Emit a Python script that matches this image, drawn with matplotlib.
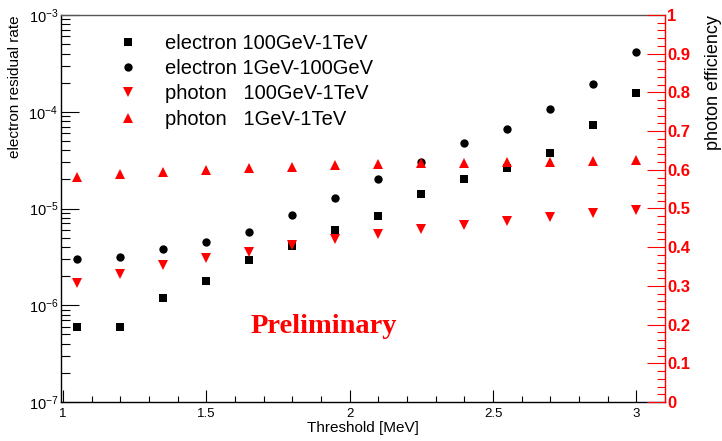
import numpy as np
import matplotlib
matplotlib.use("Agg")
import matplotlib.pyplot as plt
from matplotlib.ticker import (LogLocator, NullFormatter, MultipleLocator,
                               FormatStrFormatter)

plt.rcParams["font.family"] = ["Liberation Sans", "DejaVu Sans"]

# thresholds [MeV]
threshold = [1.05, 1.2, 1.35, 1.5, 1.65, 1.8, 1.95, 2.1, 2.25, 2.4, 2.55, 2.7, 2.85, 3.0]

# electron residual rate (left, log axis)
e_high = [6.0e-7, 6.0e-7, 1.19e-6, 1.78e-6, 2.96e-6, 4.13e-6, 5.96e-6, 8.3e-6,
          1.42e-5, 2.02e-5, 2.64e-5, 3.72e-5, 7.24e-5, 1.55e-4]
e_low = [2.98e-6, 3.18e-6, 3.81e-6, 4.48e-6, 5.68e-6, 8.63e-6, 1.29e-5, 2.03e-5,
         3.03e-5, 4.75e-5, 6.64e-5, 1.06e-4, 1.92e-4, 4.11e-4]

# photon efficiency (right, linear axis)
p_high = [0.307, 0.331, 0.353, 0.371, 0.388, 0.406, 0.421, 0.434,
          0.446, 0.457, 0.468, 0.479, 0.488, 0.496]
p_all = [0.582, 0.589, 0.595, 0.599, 0.604, 0.608, 0.612, 0.614,
         0.617, 0.618, 0.620, 0.621, 0.624, 0.625]

labels = ["electron 100GeV-1TeV", "electron 1GeV-100GeV",
          "photon   100GeV-1TeV", "photon   1GeV-1TeV"]

W, H = 722, 441
fig = plt.figure(figsize=(W/100, H/100), dpi=100)
ax = fig.add_axes([61/W, 39/H, 604/W, 387/H])
ax2 = ax.twinx()

h1, = ax.plot(threshold, e_high, "s", color="black", ms=5.8, mew=0, label=labels[0])
h2, = ax.plot(threshold, e_low, "o", color="black", ms=6.0, mew=0, label=labels[1])
h3, = ax2.plot(threshold, p_high, "v", color="red", ms=6.5, mew=0, label=labels[2])
h4, = ax2.plot(threshold, p_all, "^", color="red", ms=6.5, mew=0, label=labels[3])

ax.set_xlim(0.993, 3.1)
ax.set_yscale("log")
ax.set_ylim(1e-7, 1e-3)
ax2.set_ylim(0, 1)

# x axis
ax.xaxis.set_major_locator(MultipleLocator(0.5))
ax.xaxis.set_minor_locator(MultipleLocator(0.1))
ax.xaxis.set_major_formatter(FormatStrFormatter("%g"))
ax.xaxis.set_ticks_position("bottom")
ax.tick_params(axis="x", which="major", direction="in", length=8.4, width=0.8,
               labelsize=9.5, pad=4)
ax.tick_params(axis="x", which="minor", direction="in", length=4.3, width=0.8)

# left log axis
ax.yaxis.set_major_locator(LogLocator(base=10, numticks=10))
ax.yaxis.set_minor_locator(LogLocator(base=10, subs=np.arange(2, 10), numticks=20))
ax.yaxis.set_minor_formatter(NullFormatter())
ax.yaxis.set_ticks_position("left")
ax.tick_params(axis="y", which="major", direction="in", length=12.7, width=0.8,
               labelsize=10.5, pad=2)
ax.tick_params(axis="y", which="minor", direction="in", length=6.2, width=0.8)

# right linear axis
ax2.yaxis.set_major_locator(MultipleLocator(0.1))
ax2.yaxis.set_minor_locator(MultipleLocator(0.02))
ax2.yaxis.set_major_formatter(FormatStrFormatter("%g"))
ax2.tick_params(axis="y", which="major", direction="in", length=13, width=0.8,
                colors="red", labelsize=12, pad=1.5)
ax2.tick_params(axis="y", which="minor", direction="in", length=5.8, width=0.8,
                colors="red")
for t in ax2.get_yticklabels():
    t.set_fontweight("bold")

for s in ["left", "bottom"]:
    ax.spines[s].set_linewidth(1.0)
    ax.spines[s].set_color("black")
ax.spines["top"].set_color("#555555")
ax.spines["top"].set_linewidth(1.0)
ax.spines["right"].set_visible(False)
for s in ["left", "bottom", "top"]:
    ax2.spines[s].set_visible(False)
ax2.spines["right"].set_color("red")
ax2.spines["right"].set_linewidth(1.0)

ax.set_xlabel("Threshold [MeV]", fontsize=11)
ax.xaxis.set_label_coords(0.5, -0.049)
ax.set_ylabel("electron residual rate", fontsize=11, loc="top")
ax.yaxis.set_label_coords(-0.064, 1.0)
ax2.set_ylabel("photon efficiency", fontsize=13, loc="top")
ax2.yaxis.set_label_coords(1.066, 1.0)

ax2.legend(handles=[h1, h2, h3, h4], loc="upper left",
           bbox_to_anchor=(0.0949, 0.951), frameon=False, fontsize=14.5,
           handlelength=1.0, handletextpad=1.33, labelspacing=0.31,
           borderpad=0, borderaxespad=0)

ax.text(0.435, 0.194, "Preliminary", transform=ax.transAxes, color="red",
        fontsize=20.5, fontweight="bold", family="Liberation Serif",
        ha="center", va="center")

fig.savefig("out.png", dpi=100)
